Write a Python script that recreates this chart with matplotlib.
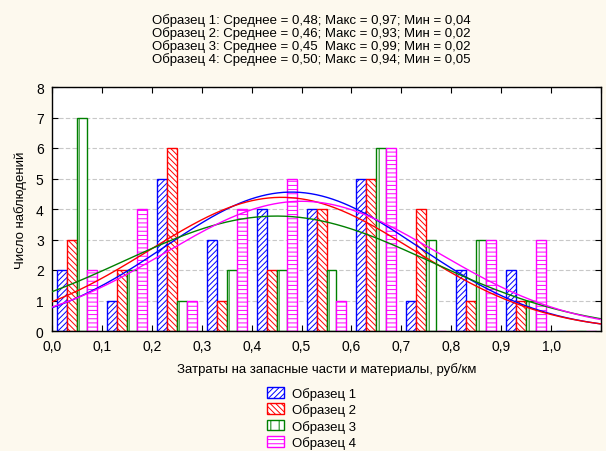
import numpy as np
import matplotlib
matplotlib.use('Agg')
import matplotlib.pyplot as plt
from matplotlib.ticker import FuncFormatter, MultipleLocator

plt.rcParams['font.family'] = ['Liberation Sans', 'DejaVu Sans']
plt.rcParams['hatch.linewidth'] = 0.7

# данные гистограммы (число наблюдений в интервалах шириной 0,1)
bin_left = [0.0, 0.1, 0.2, 0.3, 0.4, 0.5, 0.6, 0.7, 0.8, 0.9, 1.0]
sample1 = [2, 1, 5, 3, 4, 4, 5, 1, 2, 2, 0]
sample2 = [3, 2, 6, 1, 2, 4, 5, 4, 1, 1, 0]
sample3 = [7, 2, 1, 2, 2, 2, 6, 3, 3, 1, 0]
sample4 = [2, 4, 1, 4, 5, 1, 6, 0, 3, 3, 0]

# параметры нормальных кривых
means = [0.48, 0.46, 0.45, 0.50]
sds = [0.254, 0.264, 0.307, 0.272]
n_obs = 29
bin_width = 0.1

labels = ['Образец 1', 'Образец 2', 'Образец 3', 'Образец 4']
colors = ['#0000ff', '#ff0000', '#008000', '#ff00ff']
hatches = ['//////', '\\\\\\\\\\\\', '||', '----']

title_lines = [
    'Образец 1: Среднее = 0,48; Макс = 0,97; Мин = 0,04',
    'Образец 2: Среднее = 0,46; Макс = 0,93; Мин = 0,02',
    'Образец 3: Среднее = 0,45  Макс = 0,99; Мин = 0,02',
    'Образец 4: Среднее = 0,50; Макс = 0,94; Мин = 0,05',
]

fig = plt.figure(figsize=(6.06, 4.52), dpi=100, facecolor='#fdf9ee')
ax = fig.add_axes([52 / 606, 1 - 332 / 452, 549 / 606, 244 / 452])
ax.set_facecolor('white')

bar_w = 0.02
x_left = np.array(bin_left)
for i, (vals, c, h, lab) in enumerate(zip([sample1, sample2, sample3, sample4], colors, hatches, labels)):
    ax.bar(x_left + 0.01 + i * bar_w, vals, width=bar_w, align='edge',
           facecolor='white', edgecolor=c, hatch=h, linewidth=1.0, label=lab, zorder=2)

xs = np.linspace(0, 1.1, 300)
for m, s, c in zip(means, sds, colors):
    y = n_obs * bin_width / (s * np.sqrt(2 * np.pi)) * np.exp(-(xs - m) ** 2 / (2 * s ** 2))
    ax.plot(xs, y, color=c, linewidth=1.0, zorder=3)

ax.set_xlim(0, 1.1)
ax.set_ylim(0, 8)
ax.xaxis.set_major_locator(MultipleLocator(0.1))
ax.yaxis.set_major_locator(MultipleLocator(1))
ax.xaxis.set_major_formatter(FuncFormatter(
    lambda v, p: f'{v:.1f}'.replace('.', ',') if v < 1.05 else ''))
ax.tick_params(direction='in', top=True, right=True, labelsize=10, length=4, pad=6)
for sp in ax.spines.values():
    sp.set_linewidth(1.0)

ax.yaxis.grid(True, linestyle=(0, (4, 2)), color='#c8c8c8', linewidth=0.8, zorder=0)
ax.set_axisbelow(True)

ax.set_xlabel('Затраты на запасные части и материалы, руб/км', fontsize=9.5, labelpad=6)
ax.set_ylabel('Число наблюдений', fontsize=9.5, labelpad=6)

fig.text(311 / 606, 1 - 14 / 452, '\n'.join(title_lines), ha='center', va='top',
         fontsize=9.5, linespacing=1.0)

ax.legend(loc='upper left', bbox_to_anchor=(255 / 606, 1 - 376 / 452),
          bbox_transform=fig.transFigure, frameon=False, fontsize=9.5,
          handlelength=1.3, handleheight=0.9, labelspacing=0.25, handletextpad=0.6)

fig.savefig('out.png', dpi=100, facecolor=fig.get_facecolor())
